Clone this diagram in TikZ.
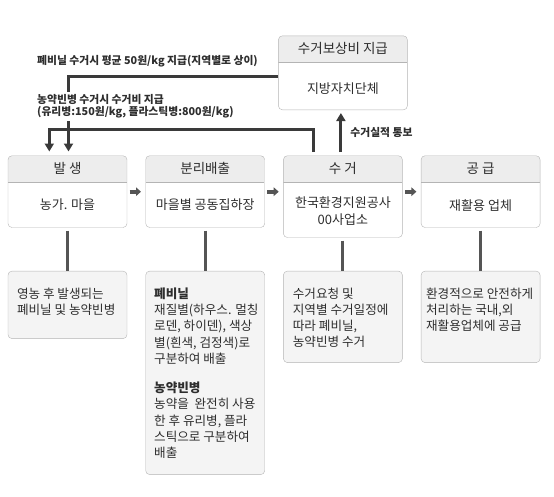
\documentclass[tikz,border=0pt]{standalone}
\usepackage{fontspec}
\setmainfont{Noto Sans CJK KR}
\usetikzlibrary{arrows.meta}
\usetikzlibrary{calc}
\usetikzlibrary{positioning}

\definecolor{boxline}{HTML}{B4B4B4}
\definecolor{headfill}{HTML}{EDEDED}
\definecolor{descfill}{HTML}{F4F4F4}
\definecolor{linkgray}{HTML}{3A3A3A}
\definecolor{dropgray}{HTML}{555555}
\definecolor{txtgray}{HTML}{2E2E2E}

\tikzset{
	stage/.style={draw=boxline, fill=white, rounded corners=4pt, anchor=north,
		minimum width=119pt, minimum height=#1, inner sep=0pt,
		path picture={
			\fill[headfill, sharp corners] (path picture bounding box.north west) rectangle ([yshift=-26.2pt]path picture bounding box.north east);
			\draw[boxline, sharp corners] ([yshift=-26.2pt]path picture bounding box.north west) -- ([yshift=-26.2pt]path picture bounding box.north east);
		}},
	desc/.style={draw=boxline, fill=descfill, rounded corners=4pt, anchor=north,
		minimum width=119pt, minimum height=#1, inner sep=0pt},
	title/.style={font=\fontsize{13.5}{15}\selectfont, text=txtgray, inner sep=0pt},
	body/.style={font=\fontsize{13}{17}\selectfont, text=txtgray, align=center, inner sep=0pt},
	desctxt/.style={font=\fontsize{12.6}{16.3}\selectfont, text=txtgray, align=left, anchor=north west, inner sep=0pt},
	note/.style={font=\bfseries\fontsize{10.8}{11.5}\selectfont, text=txtgray, align=left, inner sep=0pt},
	link/.style={draw=linkgray, line width=3pt, -{Triangle[length=8pt,width=9pt]}},
	flow/.style={draw=dropgray, line width=4pt, -{Triangle[length=5pt,width=8.5pt]}, shorten <=2.5pt, shorten >=4.5pt},
	drop/.style={draw=dropgray, line width=3pt, shorten <=3pt}
}

\begin{document}
\begin{tikzpicture}[x=1pt, y=-1pt]
	\useasboundingbox (0,0) rectangle (554,496);

	% stage boxes
	\node[stage=71.8pt] (gen) at (67.5,155.5) {};
	\node[stage=71.8pt, below right=0pt and 18.3pt of gen.north east] (sort) {};
	\node[stage=81.8pt, below right=0pt and 18.3pt of sort.north east] (coll) {};
	\node[stage=71.8pt, below right=0pt and 18.3pt of coll.north east] (supp) {};
	\node[stage=74pt, minimum width=129pt, above=45.5pt of coll, anchor=south] (pay) {};

	\node[title] (gen-t) at ([yshift=-13.1pt]gen.north) {발 생};
	\node[title] (sort-t) at ([yshift=-13.1pt]sort.north) {분리배출};
	\node[title] (coll-t) at ([yshift=-13.1pt]coll.north) {수 거};
	\node[title] (supp-t) at ([yshift=-13.1pt]supp.north) {공 급};
	\node[title] (pay-t) at ([yshift=-13.1pt]pay.north) {수거보상비 지급};

	\node[body] (gen-b) at ([yshift=-13.1pt]gen.center) {농가. 마을};
	\node[body] (sort-b) at ([yshift=-13.1pt]sort.center) {마을별 공동집하장};
	\node[body] (coll-b) at ([yshift=-14.5pt]coll.center) {한국환경지원공사\\00사업소};
	\node[body] (supp-b) at ([yshift=-14pt]supp.center) {재활용 업체};
	\node[body] (pay-b) at ([yshift=-16pt]pay.center) {지방자치단체};

	% description boxes
	\node[desc=67.5pt, below=43.2pt of gen] (gen-d) {};
	\node[desc=203.5pt, below=43.2pt of sort] (sort-d) {};
	\node[desc=91.5pt, below=33.2pt of coll] (coll-d) {};
	\node[desc=91.5pt, below=43.2pt of supp] (supp-d) {};

	\node[desctxt] at ([xshift=9pt, yshift=-16.5pt]gen-d.north west) {영농 후 발생되는\\폐비닐 및 농약빈병};
	\node[desctxt] at ([xshift=8.5pt, yshift=-16.5pt]sort-d.north west) {\textbf{폐비닐}\\재질별(하우스. 멀칭\\로덴, 하이덴), 색상\\별(흰색, 검정색)로\\구분하여 배출\\[12.7pt]\textbf{농약빈병}\\농약을\ \ 완전히 사용\\한 후 유리병, 플라\\스틱으로 구분하여\\배출};
	\node[desctxt] at ([xshift=9.5pt, yshift=-16.5pt]coll-d.north west) {수거요청 및\\지역별 수거일정에\\따라 폐비닐,\\농약빈병 수거};
	\node[desctxt] at ([xshift=5pt, yshift=-16.5pt]supp-d.north west) {환경적으로 안전하게\\처리하는 국내,외\\재활용업체에 공급};

	% connectors
	\draw[flow] ([yshift=-36.2pt]gen.north east) -- ([yshift=-36.2pt]sort.north west);
	\draw[flow] ([yshift=-36.2pt]sort.north east) -- ([yshift=-36.2pt]coll.north west);
	\draw[flow] ([yshift=-36.2pt]coll.north east) -- ([yshift=-36.2pt]supp.north west);

	\draw[drop] (gen) -- (gen-d);
	\draw[drop] (sort) -- (sort-d);
	\draw[drop] (coll) -- (coll-d);
	\draw[drop] (supp) -- (supp-d);

	\draw[link, shorten >=4pt] ([yshift=-41pt]pay.north west) -| ([xshift=1pt]gen.north);
	\draw[link, shorten <=3.5pt, shorten >=4pt] ([xshift=-29pt]coll.north) -- ++(0,-26.5) -| ([xshift=-18.2pt]gen.north);
	\draw[link, shorten <=3.5pt, shorten >=3pt] ([xshift=-2pt]coll.north) -- ([xshift=-2pt]coll.north |- pay.south)
		node[midway, right=8pt, note] {수거실적 통보};

	% payment notes
	\node[note, anchor=west] (vinyl-pay) at (37,61) {폐비닐 수거시 평균 50원/kg 지급(지역별로 상이)};
	\node[note, anchor=north west, fill=white, inner ysep=3pt, inner xsep=1pt] (bottle-pay) at (36,91.5) {농약빈병 수거시 수거비 지급\\(유리병:150원/kg, 플라스틱병:800원/kg)};
\end{tikzpicture}
\end{document}
